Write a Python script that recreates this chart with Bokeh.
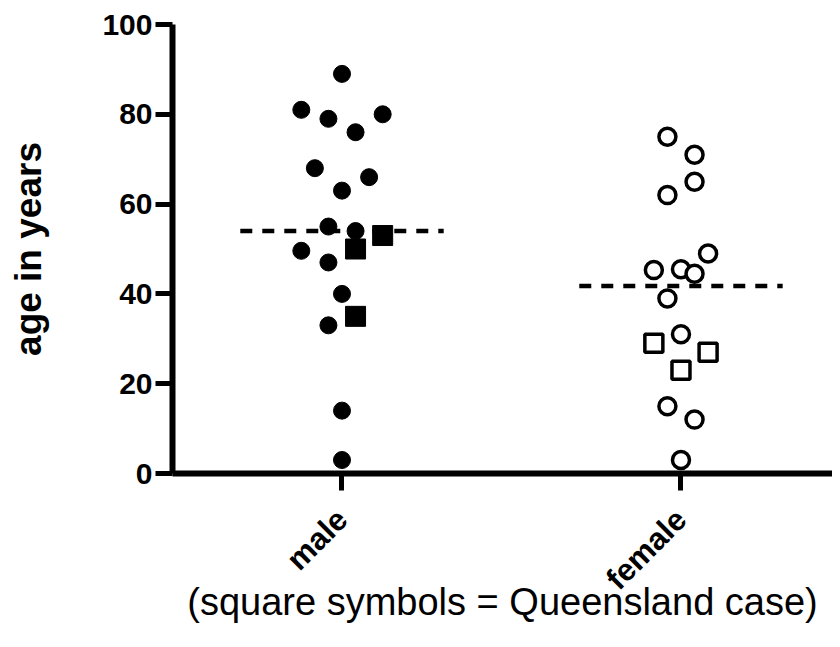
import math
import numpy as np
from bokeh.plotting import figure
from bokeh.models import FixedTicker, ColumnDataSource
from bokeh.embed import file_html
from bokeh.resources import INLINE

# ---- data ----
groups = ["male", "female"]

male_age = [89, 81, 79, 80, 76, 68, 66, 63, 55, 54, 53, 50, 49.6, 47, 40, 35, 33, 14, 3]
male_slot = [0, -3, -1, 3, 1, -2, 2, 0, -1, 1, 3, 1, -3, -1, 0, 1, -1, 0, 0]
male_qld = [0, 0, 0, 0, 0, 0, 0, 0, 0, 0, 1, 1, 0, 0, 0, 1, 0, 0, 0]

female_age = [75, 71, 65, 62, 49, 45.3, 45.5, 44.5, 39, 31, 29, 27, 23, 15, 12, 3]
female_slot = [-1, 1, 1, -1, 2, -2, 0, 1, -1, 0, -2, 2, 0, -1, 1, 0]
female_qld = [0, 0, 0, 0, 0, 0, 0, 0, 0, 0, 1, 1, 1, 0, 0, 0]

y_ticks = [0, 20, 40, 60, 80, 100]
y_title = "age in years"
x_title = "(square symbols = Queensland case)"

SLOT = 0.04      # horizontal jitter step (category units)
HALF = 0.30      # half width of median line

FONT = "Liberation Sans"

p = figure(width=832, height=631, output_backend="svg", toolbar_location=None,
           x_range=(-0.5, 1.447), y_range=(0, 100),
           min_border_left=172, min_border_right=0, min_border_top=24, min_border_bottom=158)
p.outline_line_color = None
p.xgrid.visible = False
p.ygrid.visible = False
p.background_fill_color = "white"
p.border_fill_color = "white"

# medians
for i, ages in enumerate([male_age, female_age]):
    med = float(np.median(ages))
    p.segment(x0=[i - HALF], x1=[i + HALF], y0=[med], y1=[med],
              line_color="black", line_width=4.5, line_dash="12 10")

def split(ages, slots, qld, idx):
    xs = [idx + s * SLOT for s in slots]
    c = dict(x=[x for x, q in zip(xs, qld) if not q], y=[a for a, q in zip(ages, qld) if not q])
    s = dict(x=[x for x, q in zip(xs, qld) if q], y=[a for a, q in zip(ages, qld) if q])
    return ColumnDataSource(c), ColumnDataSource(s)

mc, ms = split(male_age, male_slot, male_qld, 0)
fc, fs = split(female_age, female_slot, female_qld, 1)

p.scatter("x", "y", source=mc, marker="circle", size=17, fill_color="black", line_color="black")
p.scatter("x", "y", source=ms, marker="square", size=20, fill_color="black", line_color="black")
p.scatter("x", "y", source=fc, marker="circle", size=17, fill_color="white",
          line_color="black", line_width=3.5)
p.scatter("x", "y", source=fs, marker="square", size=18, fill_color="white",
          line_color="black", line_width=3.5)

# axes
for ax in (p.xaxis[0], p.yaxis[0]):
    ax.axis_line_width = 6
    ax.axis_line_color = "black"
    ax.major_tick_line_width = 5
    ax.major_tick_line_color = "black"
    ax.major_tick_out = 17
    ax.major_tick_in = 0
    ax.minor_tick_line_color = None
    ax.major_label_text_font = FONT
    ax.major_label_text_font_style = "bold"
    ax.major_label_text_font_size = "30px"
    ax.major_label_text_color = "black"
    ax.axis_label_text_font = FONT
    ax.axis_label_text_color = "black"

p.yaxis.ticker = FixedTicker(ticks=y_ticks)
p.yaxis.major_label_standoff = 3
p.yaxis.axis_label = y_title
p.yaxis.axis_label_text_font_style = "bold"
p.yaxis.axis_label_text_font_size = "37px"
p.yaxis.axis_label_standoff = 50

p.xaxis.ticker = FixedTicker(ticks=[0, 1])
p.xaxis.major_label_overrides = {0: groups[0], 1: groups[1]}
p.xaxis.major_label_orientation = math.pi / 4
p.xaxis.major_label_text_font_size = "31px"
p.xaxis.major_label_standoff = 24
p.xaxis.axis_label = x_title
p.xaxis.axis_label_text_font_style = "normal"
p.xaxis.axis_label_text_font_size = "38px"
p.xaxis.axis_label_standoff = -31

open("out.html", "w").write(file_html(p, INLINE))
